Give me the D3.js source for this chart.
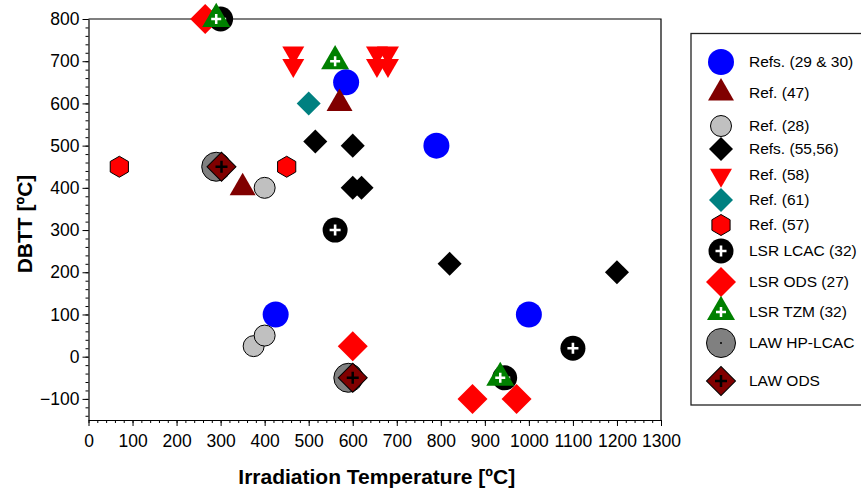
<!DOCTYPE html>
<html><head><meta charset="utf-8">
<script src="https://cdn.jsdelivr.net/npm/d3@7"></script>
<style>body{margin:0;background:#fff} svg{display:block} text{font-family:"Liberation Sans",Arial,Helvetica,sans-serif}</style>
</head><body><svg id="c" width="861" height="489"></svg>
<script>
// ---- data ----
const xTicks = [0,100,200,300,400,500,600,700,800,900,1000,1100,1200,1300];
const yTicks = [-100,0,100,200,300,400,500,600,700,800];
const xLabel = "Irradiation Temperature [ºC]";
const yLabel = "DBTT [ºC]";
const seriesNames = ["Refs. (29 & 30)","Ref. (47)","Ref. (28)","Refs. (55,56)","Ref. (58)","Ref. (61)","Ref. (57)","LSR LCAC (32)","LSR ODS (27)","LSR TZM (32)","LAW HP-LCAC","LAW ODS"];
const refs2930 = [[585,650],[790,500],[425,100],[1000,100]];
const ref47    = [[570,600],[350,400]];
const ref28    = [[400,400],[375,25],[400,50]];
const refs5556 = [[515,510],[600,500],[600,400],[620,400],[820,220],[1200,200]];
const ref58    = [[465,720],[465,690],[655,720],[655,690],[680,720],[680,690]];
const ref61    = [[500,600]];
const ref57    = [[70,450],[450,450]];
const lsrLcac  = [[300,800],[560,300],[945,-50],[1100,20]];
const lsrOds   = [[265,800],[600,25],[872,-100],[972,-100]];
const lsrTzm   = [[290,800],[560,700],[935,-50]];
const lawHpLcac= [[290,450],[590,-50]];
const lawOds   = [[302,450],[600,-50]];

const seriesData = [refs2930,ref47,ref28,refs5556,ref58,ref61,ref57,lsrLcac,lsrOds,lsrTzm,lawHpLcac,lawOds];
const styles = [
  {k:"circle", r:13, fill:"#0000ff"},
  {k:"tri", size:292, fill:"#800000"},
  {k:"circle", r:10.5, fill:"#c0c0c0", stroke:"#000"},
  {k:"diamond", size:289, fill:"#000"},
  {k:"tridown", size:209, fill:"#ff0000"},
  {k:"diamond", size:289, fill:"#008080"},
  {k:"hex", r:10.5, fill:"#ff0000", stroke:"#000"},
  {k:"circle", r:12.5, fill:"#000", plus:{a:5.5, w:2.6, c:"#fff"}},
  {k:"diamond", size:450, fill:"#ff0000"},
  {k:"tri", size:339, fill:"#008000", plus:{a:5, w:2.5, c:"#fff"}},
  {k:"circle", r:14.5, fill:"#808080", stroke:"#000", dot:true},
  {k:"diamond", size:420, fill:"#800000", stroke:"#000", plus:{a:6, w:2.5, c:"#000"}}
];
const legendY = [62,93,126,149,175,200,225,251,282,312,343,381];

// ---- chart ----
const svg = d3.select("#c");
const x = d3.scaleLinear().domain([0,1300]).range([88.5,661]);
const y = d3.scaleLinear().domain([-150,800]).range([420,19]);

// frame
svg.append("path").attr("d",`M${x(0)},${y(800)}H${x(1300)}V${y(-150)}`)
  .attr("fill","none").attr("stroke","#000").attr("stroke-width",1.2);

// axes
const xMinor = d3.range(0,1301,20), yMinor = d3.range(-140,801,20);
svg.append("g").attr("transform",`translate(0,${y(-150)})`)
  .call(d3.axisBottom(x).tickValues(xMinor).tickSize(3).tickFormat(""))
  .call(g=>g.select(".domain").remove());
const gx = svg.append("g").attr("transform",`translate(0,${y(-150)})`)
  .call(d3.axisBottom(x).tickValues(xTicks).tickSize(6).tickPadding(9).tickFormat(d3.format("d")).tickSizeOuter(0));
gx.selectAll("text").attr("font-size","17.5px").attr("fill","#000").attr("font-family","Liberation Sans, Arial, sans-serif");
gx.select(".domain").attr("stroke-width",1.2);
svg.append("g").attr("transform",`translate(${x(0)},0)`)
  .call(d3.axisLeft(y).tickValues(yMinor).tickSize(3).tickFormat(""))
  .call(g=>g.select(".domain").remove());
const gy = svg.append("g").attr("transform",`translate(${x(0)},0)`)
  .call(d3.axisLeft(y).tickValues(yTicks).tickSize(6).tickPadding(3).tickFormat(d3.format("d")).tickSizeOuter(0));
gy.selectAll("text").attr("font-size","17.5px").attr("fill","#000").attr("font-family","Liberation Sans, Arial, sans-serif");
gy.select(".domain").attr("stroke-width",1.2);
svg.selectAll(".tick line").attr("stroke","#000");

// axis titles
svg.append("text").attr("x",(x(0)+x(1300))/2 + 2).attr("y",484).attr("text-anchor","middle")
  .attr("font-weight","bold").attr("font-size","21px").text(xLabel);
svg.append("text").attr("transform",`translate(32,224) rotate(-90)`).attr("text-anchor","middle")
  .attr("font-weight","bold").attr("font-size","21px").text(yLabel);

// marker
function marker(g, s){
  if(s.k==="circle"){
    g.append("circle").attr("r",s.r).attr("fill",s.fill).attr("stroke",s.stroke||"none").attr("stroke-width",1);
  } else if(s.k==="tri"||s.k==="tridown"){
    g.append("path").attr("d",d3.symbol(d3.symbolTriangle,s.size)()).attr("fill",s.fill)
      .attr("transform",s.k==="tridown"?"rotate(180)":null);
  } else if(s.k==="diamond"){
    g.append("path").attr("d",d3.symbol(d3.symbolSquare,s.size)()).attr("fill",s.fill)
      .attr("stroke",s.stroke||"none").attr("stroke-width",1).attr("transform","rotate(45)");
  } else if(s.k==="hex"){
    const pts = d3.range(6).map(i=>{const a=Math.PI/3*i - Math.PI/2; return [s.r*Math.cos(a), s.r*Math.sin(a)];});
    g.append("path").attr("d",d3.line()(pts)+"Z").attr("fill",s.fill).attr("stroke",s.stroke).attr("stroke-width",1);
  }
  if(s.plus){
    g.append("path").attr("d",`M${-s.plus.a},0H${s.plus.a}M0,${-s.plus.a}V${s.plus.a}`)
      .attr("stroke",s.plus.c).attr("stroke-width",s.plus.w).attr("fill","none");
  }
  if(s.dot){ g.append("circle").attr("r",1).attr("fill","#000"); }
}

seriesData.forEach((data,i)=>{
  svg.append("g").selectAll("g").data(data).join("g")
    .attr("transform",d=>`translate(${x(d[0])},${y(d[1])})`)
    .each(function(){ marker(d3.select(this), styles[i]); });
});

// legend
svg.append("rect").attr("x",691).attr("y",33.5).attr("width",200).attr("height",371.5)
  .attr("fill","#fff").attr("stroke","#222").attr("stroke-width",1.3);
seriesNames.forEach((name,i)=>{
  const g = svg.append("g").attr("transform",`translate(721,${legendY[i]})`);
  marker(g, styles[i]);
  svg.append("text").attr("x",749).attr("y",legendY[i]).attr("dy","0.35em")
    .attr("font-size","15.5px").attr("fill","#000").text(name);
});
</script></body></html>
